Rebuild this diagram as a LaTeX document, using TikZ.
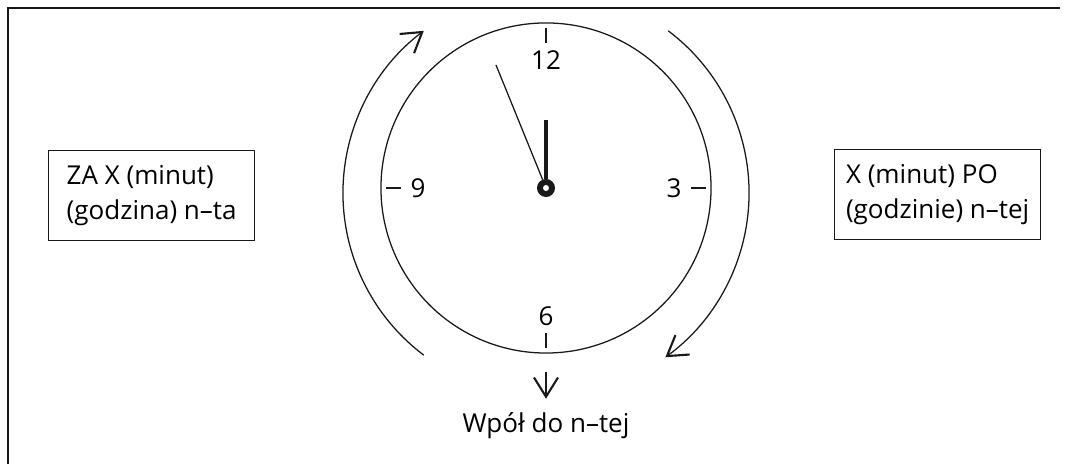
\documentclass[tikz,border=0pt]{standalone}
\usepackage{fontspec}
\setmainfont{Open Sans}
\usetikzlibrary{arrows.meta, positioning}
\definecolor{inkcol}{RGB}{25,25,25}
\tikzset{every node/.append style={align=center}}
\tikzset{
  thinline/.style={draw=inkcol, line width=0.9pt},
  labelbox/.style={thinline, align=left, anchor=north west,
                   minimum width=5.15cm, minimum height=2.25cm, inner sep=0pt,
                   font=\fontsize{18.5}{25}\selectfont},
  dialtext/.style={font=\fontsize{18.5}{25}\selectfont, inner sep=0pt},
  barb/.style={-{Straight Barb[length=0.48cm, width=0.6cm, line width=1.5pt]}},
}

\begin{document}
\begin{tikzpicture}[x=0.025cm,y=0.025cm]
\useasboundingbox (0,0) rectangle (1072,464);

% ── Page frame ────────────────────────────────────────────────────────────────
\draw[inkcol, line width=1pt] (8,0) -- (8,456) -- (1060,456);

% ── Clock face ────────────────────────────────────────────────────────────────
\node[circle, thinline, minimum size=8.25cm, inner sep=0pt] (clock) at (546,276) {};
\foreach \ang/\num in {90/12, 0/3, 270/6, 180/9}
{
  \draw[thinline] (clock.center) ++(\ang:3.63cm) -- ++(\ang:0.38cm);
  \node[dialtext] (num\num) at ([shift={(\ang:3.2cm)}]clock.center) {\num};
}

% Hands and hub
\node[circle, draw=inkcol, line width=4.2pt, minimum size=0.3cm, inner sep=0pt]
     (hub) at (clock.center) {};
\coordinate (minutetip) at (496,399);
\draw[inkcol, line width=2.8pt] (hub.north) -- ++(0,1.48cm);
\draw[inkcol, line width=0.9pt] (hub.112) -- (minutetip);

% ── Direction arcs ───────────────────────────────────────────────────────────
\coordinate (arccentre) at (546,271);
\draw[thinline, barb] (arccentre) ++(233:5.075cm)
     arc[start angle=233, end angle=127, radius=5.075cm];
\draw[thinline, barb] (arccentre) ++(53:5.075cm)
     arc[start angle=53, end angle=-54, radius=5.075cm];

% ── Side labels ──────────────────────────────────────────────────────────────
\node[labelbox] (toleft) at (48,314) {ZA X (minut)\\(godzina) n–ta};
\node[labelbox] (toright) at (834,315) {X (minut) PO\\(godzinie) n–tej};

% ── Half past ────────────────────────────────────────────────────────────────
\coordinate (halfstart) at (546,92);
\node[dialtext, anchor=base, inner ysep=10pt] (halfpast) at (546,31) {Wpół do n–tej};
\draw[thinline, barb] (halfstart) -- (halfpast.north);

\end{tikzpicture}
\end{document}
